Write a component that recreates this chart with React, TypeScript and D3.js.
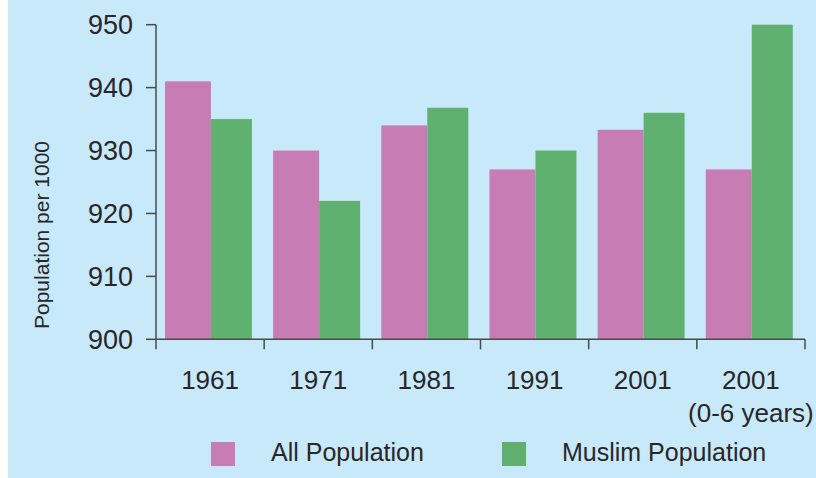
import React, { useEffect, useRef } from "react";
import * as d3 from "d3";

const categories = ["1961", "1971", "1981", "1991", "2001", "2001 (0-6 years)"];
const seriesNames = ["All Population", "Muslim Population"];
const allPopulation = [941, 930, 934, 927, 933.3, 927];
const muslimPopulation = [935, 922, 936.8, 930, 936, 950];
const yTicks = [900, 910, 920, 930, 940, 950];
const colors = ["#c77db4", "#60b170"];

const W = 816;
const H = 478;
const margin = { top: 24.7, right: 11, bottom: 138.7, left: 156 };
const font = "'Liberation Sans', Arial, sans-serif";
const ink = "#2a2627";

export default function App() {
  const ref = useRef<SVGSVGElement>(null);

  useEffect(() => {
    const svg = d3.select(ref.current);
    svg.selectAll("*").remove();

    const h = H - margin.top - margin.bottom;

    svg.append("rect").attr("x", 8).attr("y", 0).attr("width", W - 8).attr("height", H)
      .attr("fill", "#c7e9f9");

    const x = d3.scaleBand().domain(categories).range([margin.left, W - margin.right]).padding(0);
    const y = d3.scaleLinear().domain([900, 950]).range([margin.top + h, margin.top]);

    // bars: pink takes a slightly wider slice than green
    const slices = [[0.083, 0.508], [0.508, 0.887]];
    const data = [allPopulation, muslimPopulation];
    const g = svg.append("g");
    data.forEach((vals, s) => {
      g.selectAll(".bar" + s).data(vals).join("rect")
        .attr("x", (d, i) => x(categories[i])! + x.bandwidth() * slices[s][0])
        .attr("width", x.bandwidth() * (slices[s][1] - slices[s][0]))
        .attr("y", d => y(d))
        .attr("height", d => y(900) - y(d))
        .attr("fill", colors[s]);
    });

    const axisColor = "#4a4a4a";
    const x0 = margin.left;
    const y0 = y(900);
    // y axis line (runs below the x axis a bit)
    svg.append("line").attr("x1", x0).attr("x2", x0).attr("y1", y(950)).attr("y2", y0 + 10)
      .attr("stroke", axisColor).attr("stroke-width", 1.5);
    svg.selectAll(".ytick").data(yTicks).join("line")
      .attr("x1", x0 - 10).attr("x2", x0).attr("y1", d => y(d)).attr("y2", d => y(d))
      .attr("stroke", axisColor).attr("stroke-width", 1.5);
    svg.selectAll(".ylab").data(yTicks).join("text")
      .attr("x", x0 - 23).attr("y", d => y(d)).attr("dy", "0.35em")
      .attr("text-anchor", "end").attr("font-family", font).attr("font-size", 27).attr("fill", ink)
      .text(d => d);

    // x axis
    svg.append("line").attr("x1", x0).attr("x2", W - margin.right).attr("y1", y0).attr("y2", y0)
      .attr("stroke", axisColor).attr("stroke-width", 1.5);
    svg.selectAll(".xtick").data(categories).join("line")
      .attr("x1", d => x(d)! + x.bandwidth()).attr("x2", d => x(d)! + x.bandwidth())
      .attr("y1", y0).attr("y2", y0 + 10)
      .attr("stroke", axisColor).attr("stroke-width", 1.5);
    categories.forEach(c => {
      const parts = c.split(" ");
      const t = svg.append("text").attr("text-anchor", "middle").attr("font-family", font)
        .attr("font-size", 26).attr("fill", ink);
      t.append("tspan").attr("x", x(c)! + x.bandwidth() / 2).attr("y", y0 + 50).text(parts[0]);
      if (parts.length > 1)
        t.append("tspan").attr("x", x(c)! + x.bandwidth() / 2).attr("y", y0 + 83).text(parts.slice(1).join(" "));
    });

    // y title
    svg.append("text")
      .attr("transform", `translate(49, ${235}) rotate(-90)`)
      .attr("text-anchor", "middle").attr("font-family", font).attr("font-size", 21).attr("fill", ink)
      .text("Population per 1000");

    // legend
    const legendX = [211, 502];
    seriesNames.forEach((name, i) => {
      svg.append("rect").attr("x", legendX[i]).attr("y", 442).attr("width", 24).attr("height", 24)
        .attr("fill", colors[i]);
      svg.append("text").attr("x", legendX[i] + 60).attr("y", 461)
        .attr("font-family", font).attr("font-size", 25).attr("fill", ink).text(name);
    });
  }, []);

  return <svg ref={ref} width={W} height={H} style={{ position: "absolute", left: 0, top: 0 }} />;
}
